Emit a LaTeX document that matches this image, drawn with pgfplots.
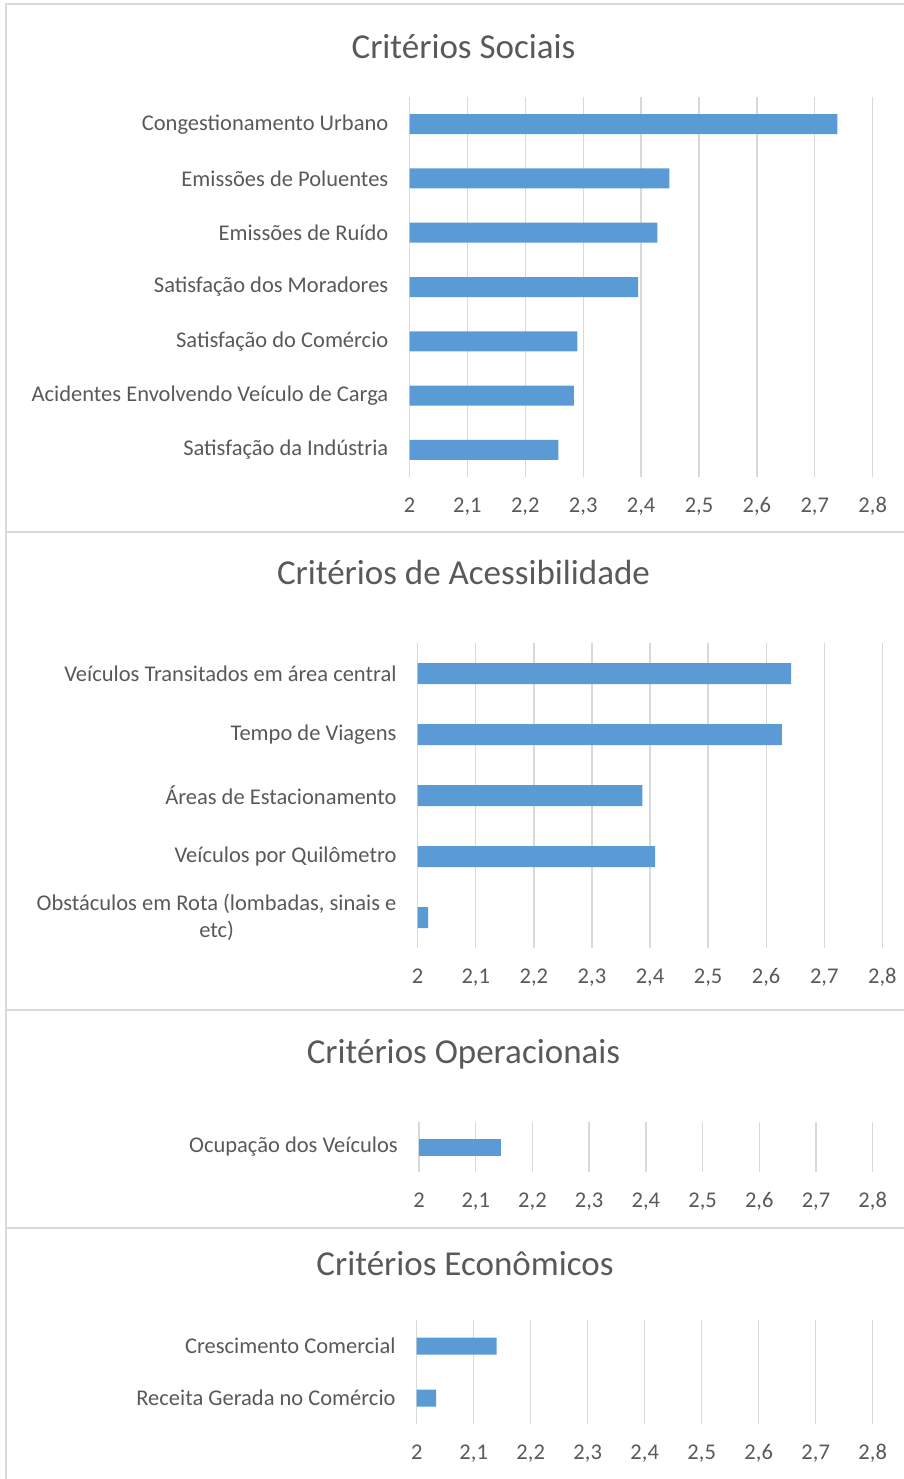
\documentclass[border=0pt]{standalone}
\usepackage{pgfplots}
\pgfplotsset{compat=1.18}
\usepackage{fontspec}
\setmainfont{Carlito}
\definecolor{barblue}{HTML}{5B9BD5}
\definecolor{gridgray}{HTML}{D9D9D9}
\definecolor{txt}{HTML}{595959}
\definecolor{framegray}{HTML}{D9D9D9}
\pgfplotsset{panel/.style={
  scale only axis, anchor=north west,
  xbar, xmin=2, xmax=2.8,
  xtick={2,2.1,2.2,2.3,2.4,2.5,2.6,2.7,2.8},
  xticklabels={2,{2,1},{2,2},{2,3},{2,4},{2,5},{2,6},{2,7},{2,8}},
  xmajorgrids, major grid style={gridgray, line width=1.3pt},
  axis line style={draw=none}, major tick length=0pt,
  y dir=reverse,
  /pgf/number format/assume math mode=true,
  tick label style={font=\fontsize{22.5}{27}\selectfont, text=txt},
  xticklabel style={anchor=base, yshift=-35pt, inner sep=0pt},
  yticklabel style={anchor=east, inner sep=0pt, xshift=-21pt, align=right},
}}
\begin{document}
\begin{tikzpicture}
\path[use as bounding box] (0pt,0pt) rectangle (903pt,-1479pt);
\draw[framegray, line width=2pt] (6pt,-4pt) rectangle (920pt,-532pt);
\draw[framegray, line width=2pt] (6pt,-532pt) rectangle (920pt,-1010pt);
\draw[framegray, line width=2pt] (6pt,-1010pt) rectangle (920pt,-1228pt);
\draw[framegray, line width=2pt] (6pt,-1228pt) rectangle (920pt,-1500pt);
\tikzset{ttl/.style={anchor=base, font=\fontsize{35}{40}\selectfont, text=txt}}
\node[ttl] at (463.5pt,-58.3pt) {Critérios Sociais};
\node[ttl] at (463.5pt,-584pt) {Critérios de Acessibilidade};
\node[ttl] at (463.5pt,-1063.3pt) {Critérios Operacionais};
\node[ttl] at (465pt,-1275pt) {Critérios Econômicos};

\begin{axis}[panel, at={(409.5pt,-97pt)}, width=463.2pt, height=380pt,
  ymin=-0.5, ymax=6.5, bar width=20pt, ytick={0,1,2,3,4,5,6},
  yticklabels={Congestionamento Urbano, Emissões de Poluentes, Emissões de Ruído, Satisfação dos Moradores, Satisfação do Comércio, Acidentes Envolvendo Veículo de Carga, Satisfação da Indústria}]
\addplot[fill=barblue, draw=none] coordinates {(2.739,0) (2.449,1) (2.428,2) (2.395,3) (2.290,4) (2.284,5) (2.257,6)};
\end{axis}

\begin{axis}[panel, at={(417.7pt,-643pt)}, width=464.6pt, height=305pt,
  ymin=-0.5, ymax=4.5, bar width=21pt, ytick={0,1,2,3,4},
  yticklabel style={align=center},
  yticklabels={Veículos Transitados em área central, Tempo de Viagens, Áreas de Estacionamento, Veículos por Quilômetro, {Obstáculos em Rota (lombadas, sinais e\\etc)}}]
\addplot[fill=barblue, draw=none] coordinates {(2.643,0) (2.627,1) (2.387,2) (2.409,3) (2.018,4)};
\end{axis}

\begin{axis}[panel, at={(419pt,-1122pt)}, width=453.7pt, height=50pt,
  ymin=-0.5, ymax=0.5, bar width=17pt, ytick={0},
  yticklabels={Ocupação dos Veículos}]
\addplot[fill=barblue, draw=none] coordinates {(2.145,0)};
\end{axis}

\begin{axis}[panel, at={(416.7pt,-1320pt)}, width=456pt, height=104pt,
  ymin=-0.5, ymax=1.5, bar width=17pt, ytick={0,1},
  yticklabels={Crescimento Comercial, Receita Gerada no Comércio}]
\addplot[fill=barblue, draw=none] coordinates {(2.140,0) (2.034,1)};
\end{axis}
\end{tikzpicture}
\end{document}
